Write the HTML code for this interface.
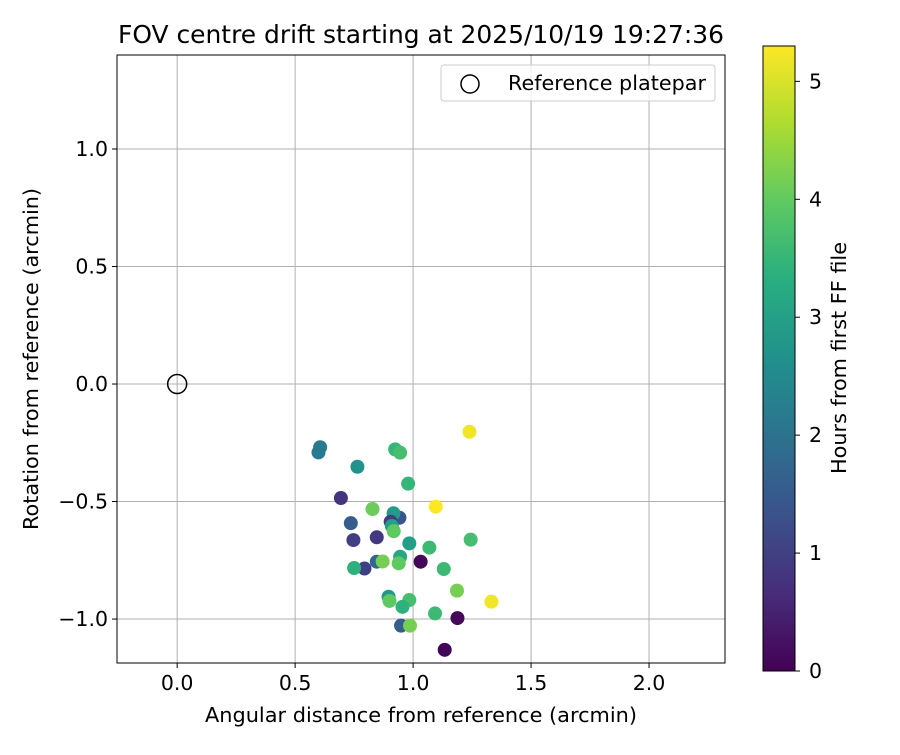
<!DOCTYPE html>
<html><head><meta charset="utf-8"><style>
body{margin:0;background:#fff}
svg text{font-family:"DejaVu Sans","Liberation Sans",sans-serif;fill:#000}
</style></head><body>
<svg id="chart" width="900" height="750" viewBox="0 0 900 750" xmlns="http://www.w3.org/2000/svg">
<defs>
<linearGradient id="vir" x1="0" y1="1" x2="0" y2="0">
<stop offset="0" stop-color="#440154"/><stop offset="0.125" stop-color="#472d7b"/><stop offset="0.25" stop-color="#3b528b"/><stop offset="0.375" stop-color="#2c728e"/><stop offset="0.5" stop-color="#21918c"/><stop offset="0.625" stop-color="#28ae80"/><stop offset="0.75" stop-color="#5ec962"/><stop offset="0.875" stop-color="#addc30"/><stop offset="1" stop-color="#fde725"/>
</linearGradient>
<clipPath id="clip"><rect x="117" y="55" width="608" height="608"/></clipPath>
</defs>
<text x="421" y="43" font-size="24.5" text-anchor="middle" textLength="606" lengthAdjust="spacingAndGlyphs">FOV centre drift starting at 2025/10/19 19:27:36</text>
<g id="grid"></g>
<g id="points" clip-path="url(#clip)"></g>
<rect x="117" y="55" width="608" height="608" fill="none" stroke="#000" stroke-width="1"/>
<g id="ticks"></g>
<text x="421" y="722" font-size="20.5" text-anchor="middle" textLength="432" lengthAdjust="spacingAndGlyphs">Angular distance from reference (arcmin)</text>
<text transform="translate(38,359) rotate(-90)" font-size="20.5" text-anchor="middle" textLength="342" lengthAdjust="spacingAndGlyphs">Rotation from reference (arcmin)</text>
<g>
<rect x="441" y="65" width="274" height="36" rx="3" fill="#fff" fill-opacity="0.8" stroke="#ccc"/>
<circle cx="470" cy="84" r="9" fill="none" stroke="#000" stroke-width="1.5"/>
<text x="508" y="90" font-size="20.5" textLength="198" lengthAdjust="spacingAndGlyphs">Reference platepar</text>
</g>
<rect x="763" y="46" width="32" height="625" fill="url(#vir)" stroke="#000" stroke-width="1"/>
<g id="cbticks"></g>
<text transform="translate(846,358) rotate(-90)" font-size="20.5" text-anchor="middle" textLength="232" lengthAdjust="spacingAndGlyphs">Hours from first FF file</text>
</svg>
<script>
const xs=[1.239,0.606,0.599,0.924,0.945,0.764,0.979,0.694,0.828,1.096,0.942,0.917,0.736,0.905,0.910,0.918,0.747,0.846,0.984,1.069,1.244,1.032,0.945,0.939,0.846,0.871,0.794,0.750,1.130,1.186,1.332,0.896,0.900,0.984,0.955,1.093,1.188,0.949,0.987,1.134];
const ys=[-0.203,-0.269,-0.291,-0.278,-0.292,-0.352,-0.424,-0.485,-0.532,-0.522,-0.569,-0.550,-0.592,-0.586,-0.604,-0.626,-0.664,-0.652,-0.678,-0.696,-0.662,-0.756,-0.735,-0.763,-0.756,-0.755,-0.785,-0.783,-0.787,-0.879,-0.926,-0.905,-0.923,-0.919,-0.948,-0.976,-0.996,-1.028,-1.028,-1.131];
const hours=[5.2,2.2,2.2,3.5,3.7,2.7,3.5,0.8,4.1,5.3,1.4,2.9,1.6,1.0,3.0,4.0,1.0,0.9,3.0,3.6,3.7,0.1,3.2,4.0,1.8,4.2,1.0,3.4,3.6,4.2,5.2,2.8,4.0,3.7,3.4,3.6,0.1,1.6,4.2,0.05];
const xTicks=[0.0,0.5,1.0,1.5,2.0];
const yTicks=[-1.0,-0.5,0.0,0.5,1.0];
const cbTicks=[0,1,2,3,4,5];
const refPoint=[0,0];
const NS="http://www.w3.org/2000/svg";
const X0=117,X1=725,Y0=55,Y1=663,xmin=-0.255,xmax=2.322,ymin=-1.187,ymax=1.4;
const sx=v=>X0+(v-xmin)/(xmax-xmin)*(X1-X0);
const sy=v=>Y1-(v-ymin)/(ymax-ymin)*(Y1-Y0);
const hmax=5.3,CB0=671,CB1=46;
const sc=h=>CB0-h/hmax*(CB0-CB1);
const vir=[[68,1,84],[71,44,122],[59,81,139],[44,113,142],[33,144,141],[39,173,129],[92,200,99],[170,220,50],[253,231,37]];
function color(h){let t=Math.max(0,Math.min(1,h/hmax))*(vir.length-1);let i=Math.min(Math.floor(t),vir.length-2),f=t-i;const c=vir[i].map((a,k)=>Math.round(a+(vir[i+1][k]-a)*f));return `rgb(${c})`;}
function mk(tag,attrs,parent){const e=document.createElementNS(NS,tag);for(const k in attrs)e.setAttribute(k,attrs[k]);parent.appendChild(e);return e;}
const grid=document.getElementById('grid'),ticks=document.getElementById('ticks'),pts=document.getElementById('points'),cbt=document.getElementById('cbticks');
const fmt=v=>(v<0?'\u2212':'')+Math.abs(v).toFixed(1);
xTicks.forEach(v=>{const x=sx(v);
const g=mk('line',{x1:x,x2:x,y1:Y0,y2:Y1,stroke:'#b0b0b0','stroke-width':1},grid);


const t=mk('line',{x1:x,x2:x,y1:Y1,y2:Y1+5,stroke:'#000'},ticks);


const l=mk('text',{x:x,y:Y1+27,'font-size':20.5,'text-anchor':'middle'},ticks);l.textContent=fmt(v);

});
yTicks.forEach(v=>{const y=sy(v);
const g=mk('line',{x1:X0,x2:X1,y1:y,y2:y,stroke:'#b0b0b0','stroke-width':1},grid);


const t=mk('line',{x1:X0-5,x2:X0,y1:y,y2:y,stroke:'#000'},ticks);


const l=mk('text',{x:X0-9,y:y+7,'font-size':20.5,'text-anchor':'end'},ticks);l.textContent=fmt(v);

});
xs.forEach((v,i)=>{const c=mk('circle',{cx:sx(v),cy:sy(ys[i]),r:7,fill:color(hours[i])},pts);

});
const ref=mk('circle',{cx:sx(refPoint[0]),cy:sy(refPoint[1]),r:9.5,fill:'none',stroke:'#000','stroke-width':1.5},pts);


cbTicks.forEach(v=>{const y=sc(v);
const t=mk('line',{x1:795,x2:800,y1:y,y2:y,stroke:'#000'},cbt);


const l=mk('text',{x:809,y:y+7,'font-size':20.5},cbt);l.textContent=String(v);

});
</script>
</body></html>
